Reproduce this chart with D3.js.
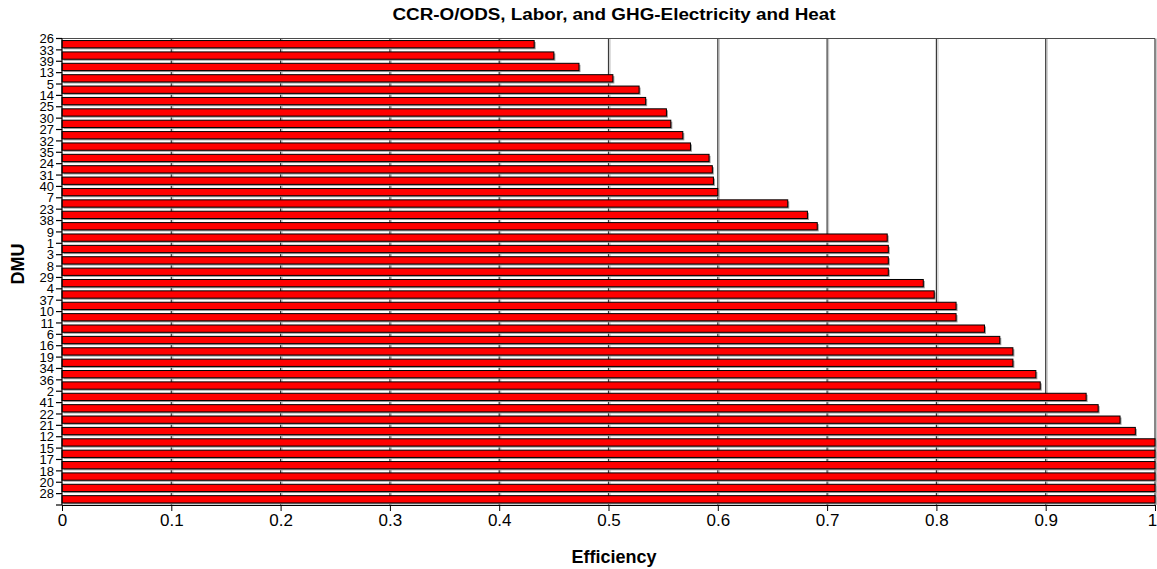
<!DOCTYPE html>
<html>
<head>
<meta charset="utf-8">
<script src="https://cdn.jsdelivr.net/npm/d3@7/dist/d3.min.js"></script>
<style>
  body { margin: 0; background: #fff; }
  text { font-family: "Liberation Sans", Arial, sans-serif; fill: #000; }
</style>
</head>
<body>
<div class="chart"></div>
<script>
// DMU names, top to bottom as they appear
var dmus = ["26", "33", "39", "13", "5", "14", "25", "30", "27", "32",
            "35", "24", "31", "40", "7", "23", "38", "9", "1", "3",
            "8", "29", "4", "37", "10", "11", "6", "16", "19", "34",
            "36", "2", "41", "22", "21", "12", "15", "17", "18", "20", "28"];
// efficiency score of each DMU
var efficiency = [0.432, 0.450, 0.473, 0.504, 0.528, 0.534, 0.553, 0.557, 0.568, 0.575,
                  0.592, 0.595, 0.596, 0.600, 0.664, 0.682, 0.691, 0.755, 0.756, 0.756,
                  0.756, 0.788, 0.798, 0.818, 0.818, 0.844, 0.858, 0.870, 0.870, 0.891,
                  0.895, 0.937, 0.948, 0.968, 0.982, 1, 1, 1, 1, 1, 1];
var xTicks = [0, 0.1, 0.2, 0.3, 0.4, 0.5, 0.6, 0.7, 0.8, 0.9, 1];
var xTickLabels = ["0", "0.1", "0.2", "0.3", "0.4", "0.5", "0.6", "0.7", "0.8", "0.9", "1"];
var chartTitle = "CCR-O/ODS, Labor, and GHG-Electricity and Heat";
var xTitle = "Efficiency";
var yTitle = "DMU";

var W = 1157, H = 569;
// plot area (note: "top" is taken by window.top, so use other names)
var plotLeft = 62, plotRight = 1155, plotTop = 38.5, plotBottom = 505;

var data = dmus.map(function (d, i) { return { dmu: d, value: efficiency[i] }; });

var svg = d3.select("div.chart")
  .append("svg")
  .attr("width", W)
  .attr("height", H);

var x = d3.scaleLinear().domain([0, 1]).range([plotLeft, plotRight]);
var y = d3.scaleBand()
  .domain(dmus)
  .range([plotTop, plotBottom])
  .paddingInner(0.36)
  .paddingOuter(0.18);
var slotTop = function (d) { return y(d) - y.step() * 0.18; };

// vertical gridlines (with a light shadow)
var grid = svg.append("g");
grid.selectAll("line.shadow")
  .data(xTicks.slice(1)).enter()
  .append("line")
  .attr("class", "shadow")
  .attr("x1", function (d) { return x(d) + 1.5; })
  .attr("x2", function (d) { return x(d) + 1.5; })
  .attr("y1", plotTop).attr("y2", plotBottom)
  .style("stroke", "#c8c8c8").style("stroke-width", 1.2);
grid.selectAll("line.main")
  .data(xTicks.slice(1)).enter()
  .append("line")
  .attr("class", "main")
  .attr("x1", function (d) { return x(d); })
  .attr("x2", function (d) { return x(d); })
  .attr("y1", plotTop).attr("y2", plotBottom)
  .style("stroke", "#3a3a3a").style("stroke-width", 1.2);
// top border
svg.append("line")
  .attr("x1", plotLeft).attr("x2", plotRight)
  .attr("y1", plotTop).attr("y2", plotTop)
  .style("stroke", "#4a4a4a").style("stroke-width", 1.2);

// bars: gray shadow first, then the red bar
svg.selectAll("rect.shadow")
  .data(data).enter()
  .append("rect")
  .attr("class", "shadow")
  .attr("x", x(0) + 1.5)
  .attr("y", function (d) { return y(d.dmu) + 1.5; })
  .attr("width", function (d) { return x(d.value) - x(0); })
  .attr("height", y.bandwidth())
  .style("fill", "#9a9a9a");
svg.selectAll("rect.bar")
  .data(data).enter()
  .append("rect")
  .attr("class", "bar")
  .attr("x", x(0))
  .attr("y", function (d) { return y(d.dmu); })
  .attr("width", function (d) { return x(d.value) - x(0); })
  .attr("height", y.bandwidth())
  .style("fill", "#ff0000")
  .style("stroke", "#000")
  .style("stroke-width", 1);

// y axis: ticks sit on the slot boundaries, labels on the ticks
var yAxis = svg.append("g");
yAxis.append("line")
  .attr("x1", plotLeft).attr("x2", plotLeft)
  .attr("y1", plotTop).attr("y2", plotBottom)
  .style("stroke", "#000").style("stroke-width", 1.2);
yAxis.selectAll("line.tick")
  .data(dmus.concat(["end"])).enter()
  .append("line")
  .attr("class", "tick")
  .attr("x1", plotLeft - 6).attr("x2", plotLeft)
  .attr("y1", function (d) { return d == "end" ? plotBottom : slotTop(d); })
  .attr("y2", function (d) { return d == "end" ? plotBottom : slotTop(d); })
  .style("stroke", "#000").style("stroke-width", 1.2);
yAxis.selectAll("text")
  .data(dmus).enter()
  .append("text")
  .attr("x", plotLeft - 8)
  .attr("y", function (d) { return slotTop(d); })
  .attr("dy", "0.36em")
  .style("text-anchor", "end")
  .style("font-size", "13px")
  .text(function (d) { return d; });

// x axis
var xAxis = svg.append("g")
  .attr("transform", "translate(0," + plotBottom + ")")
  .call(d3.axisBottom(x)
    .tickValues(xTicks)
    .tickSize(6)
    .tickSizeOuter(0)
    .tickFormat(function (d, i) { return xTickLabels[i]; }));
xAxis.select(".domain").style("stroke", "#000").style("stroke-width", 1.2);
xAxis.selectAll(".tick line").style("stroke", "#000");
xAxis.selectAll(".tick text")
  .attr("y", 9)
  .attr("x", function (d) { return d == 1 ? -3 : 0; })
  .style("font-size", "17px")
  .style("font-family", "'Liberation Sans', Arial, sans-serif");

// titles
svg.append("text")
  .attr("x", 614).attr("y", 20)
  .attr("textLength", 443)
  .attr("lengthAdjust", "spacingAndGlyphs")
  .style("text-anchor", "middle")
  .style("font-size", "16px")
  .style("font-weight", "bold")
  .text(chartTitle);
svg.append("text")
  .attr("x", 614).attr("y", 563)
  .style("text-anchor", "middle")
  .style("font-size", "18px")
  .style("font-weight", "bold")
  .text(xTitle);
svg.append("text")
  .attr("transform", "translate(24,264) rotate(-90)")
  .style("text-anchor", "middle")
  .style("font-size", "18px")
  .style("font-weight", "bold")
  .text(yTitle);
</script>
</body>
</html>
